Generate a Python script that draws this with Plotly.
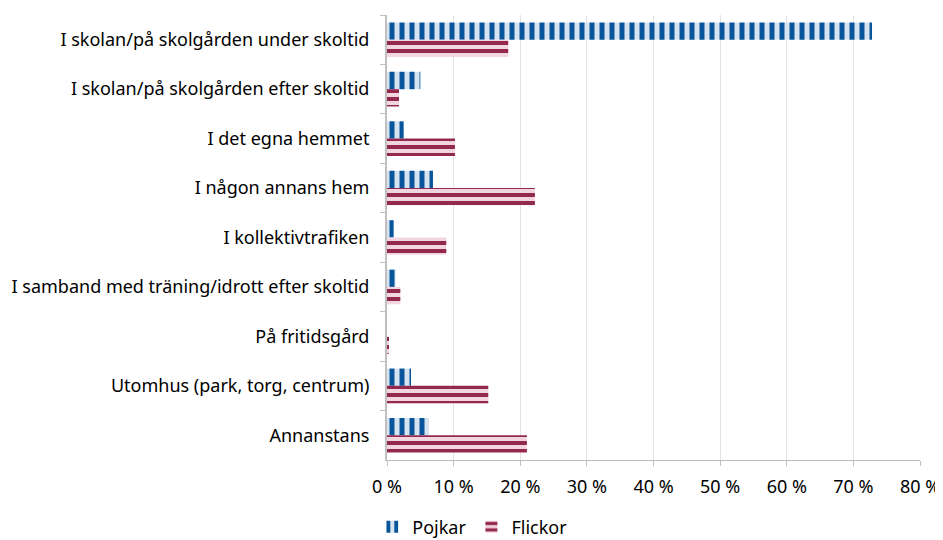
import plotly.graph_objects as go

categories = [
    "I skolan/på skolgården under skoltid",
    "I skolan/på skolgården efter skoltid",
    "I det egna hemmet",
    "I någon annans hem",
    "I kollektivtrafiken",
    "I samband med träning/idrott efter skoltid",
    "På fritidsgård",
    "Utomhus (park, torg, centrum)",
    "Annanstans",
]
pojkar = [72.8, 5.0, 2.5, 6.9, 1.0, 1.3, 0.0, 3.6, 6.3]
flickor = [18.2, 1.8, 10.2, 22.2, 8.9, 2.0, 0.3, 15.2, 21.0]
tick_vals = [0, 10, 20, 30, 40, 50, 60, 70, 80]
tick_text = [f"{v} %" for v in tick_vals]

fig = go.Figure()
fig.add_trace(go.Bar(
    name="Pojkar", y=categories, x=pojkar, orientation="h",
    marker=dict(color="#d6e4f2", line=dict(width=0),
                pattern=dict(shape="|", fgcolor="#08559b", fgopacity=1, size=10, solidity=0.5)),
))
fig.add_trace(go.Bar(
    name="Flickor", y=categories, x=flickor, orientation="h",
    marker=dict(color="#f2d6df", line=dict(width=0),
                pattern=dict(shape="-", fgcolor="#93294f", fgopacity=1, size=8, solidity=0.5)),
))

font = "Noto Sans, Open Sans, sans-serif"
# the page body adds an 8 px margin, so the figure is 8 px smaller and offset
fig.update_layout(
    width=935, height=532,
    margin=dict(l=379, r=23, t=7, b=80, autoexpand=False),
    barmode="group", bargap=0.3, bargroupgap=0.0,
    plot_bgcolor="white", paper_bgcolor="white",
    font=dict(family=font, size=18, color="#000000"),
    legend=dict(orientation="h", x=0.16, xanchor="center", y=-67 / 445, yanchor="middle",
                font=dict(size=18), traceorder="normal"),
    showlegend=True,
)
fig.update_xaxes(
    range=[0, 80], tickvals=tick_vals, ticktext=tick_text,
    showgrid=True, gridcolor="#e3e3e3", gridwidth=1,
    showline=True, linecolor="#bfbfbf", linewidth=1,
    ticks="outside", tickcolor="#bfbfbf", ticklen=5,
    zeroline=False, tickfont=dict(size=18), automargin=False, ticklabelstandoff=5,
    ticklabeloverflow="allow",
)
fig.update_yaxes(
    autorange="reversed", showline=True, linecolor="#bfbfbf", linewidth=2,
    ticks="outside", tickson="boundaries", tickcolor="#bfbfbf", ticklen=5,
    showgrid=False, tickfont=dict(size=18), automargin=False, ticklabelstandoff=12,
)
fig.write_html("out.html")
